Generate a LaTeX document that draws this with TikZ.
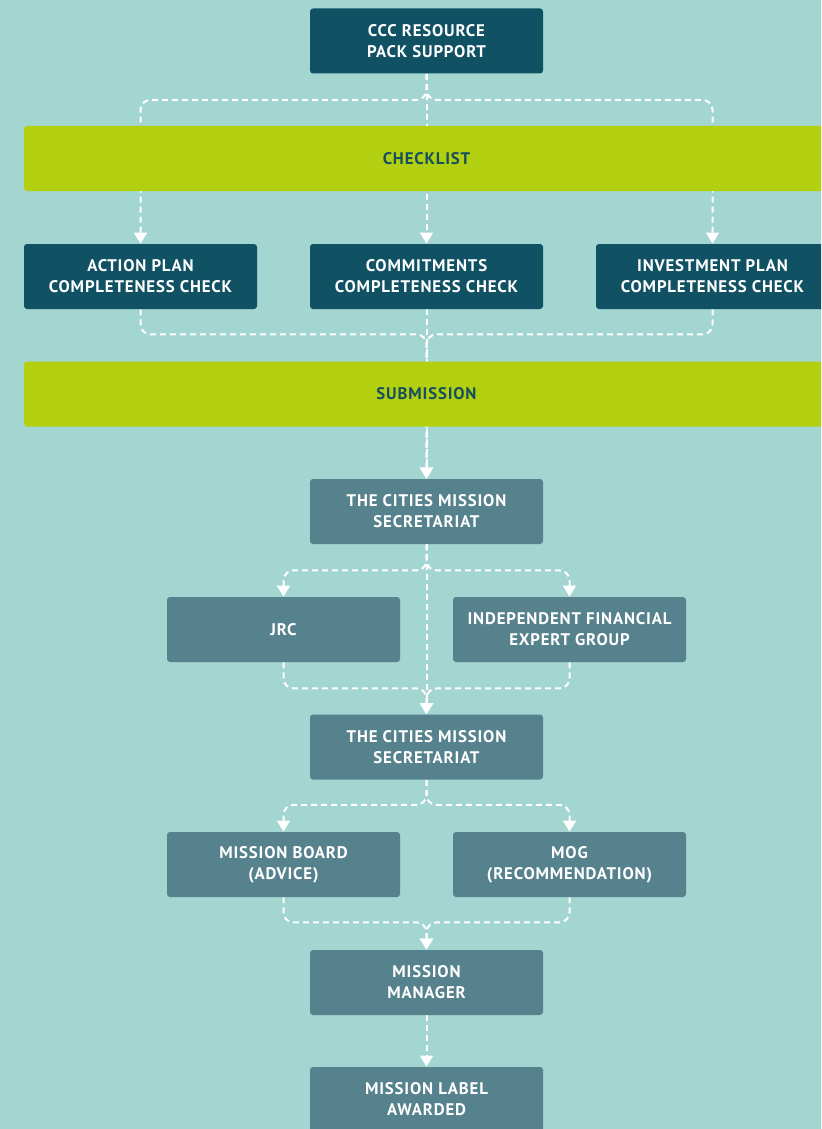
\documentclass[tikz,border=0pt]{standalone}
\usepackage{fontspec}
\setmainfont{PT Sans}[LetterSpace=5]
\usetikzlibrary{arrows.meta}

\definecolor{bgaqua}{RGB}{163,213,209}
\definecolor{darkteal}{RGB}{16,82,100}
\definecolor{slateteal}{RGB}{86,130,141}
\definecolor{limegreen}{RGB}{178,208,16}
\definecolor{bandtext}{RGB}{22,80,92}

\pgfdeclarelayer{back}
\pgfdeclarelayer{links}
\pgfsetlayers{back,links,main}

\tikzset{
  box/.style={rectangle, rounded corners=1.5pt, minimum width=116.5pt,
    minimum height=32.5pt, inner sep=0pt, align=center, text=white,
    font=\bfseries\fontsize{8.4}{10.5}\selectfont},
  darkbox/.style={box, fill=darkteal},
  midbox/.style={box, fill=slateteal},
  band/.style={rectangle, rounded corners=1.5pt, fill=limegreen,
    minimum width=402.5pt, minimum height=32.5pt, text=bandtext,
    font=\bfseries\fontsize{8.4}{10.5}\selectfont},
  link/.style={draw=white, line width=1pt, dash pattern=on 3pt off 2pt,
    rounded corners=5pt, -{Triangle[width=6.5pt,length=5.5pt]}}
}

\begin{document}
\begin{tikzpicture}[x=0.5pt, y=-0.5pt]
\begin{pgfonlayer}{back}
  \fill[bgaqua] (0,0) rectangle (821,1129);
\end{pgfonlayer}
\useasboundingbox (0,0) rectangle (821,1129);
\clip (0,0) rectangle (821,1129);

\node[darkbox] (ccc) at (426.5,41) {CCC RESOURCE\\PACK SUPPORT};
\node[band] (checklist) at (426.5,158.5) {CHECKLIST};

\node[darkbox] (actionplan) at (140.5,276.5) {ACTION PLAN\\COMPLETENESS CHECK};
\node[darkbox] (commitments) at (426.5,276.5) {COMMITMENTS\\COMPLETENESS CHECK};
\node[darkbox] (investplan) at (712.5,276.5) {INVESTMENT PLAN\\COMPLETENESS CHECK};

\node[band] (submission) at (426.5,394) {SUBMISSION};

\node[midbox] (secretariat1) at (426.5,511.5) {THE CITIES MISSION\\SECRETARIAT};
\node[midbox] (jrc) at (283.5,629.5) {JRC};
\node[midbox] (expertgroup) at (569.5,629.5) {INDEPENDENT FINANCIAL\\EXPERT GROUP};
\node[midbox] (secretariat2) at (426.5,747) {THE CITIES MISSION\\SECRETARIAT};
\node[midbox] (board) at (283.5,864.5) {MISSION BOARD\\(ADVICE)};
\node[midbox] (mog) at (569.5,864.5) {MOG\\(RECOMMENDATION)};
\node[midbox] (manager) at (426.5,982.5) {MISSION\\MANAGER};
\node[midbox] (awarded) at (426.5,1099.5) {MISSION LABEL\\AWARDED};

\begin{pgfonlayer}{links}
  % fan out from the resource pack
  \draw[link] (ccc.south) -- ++(0,26) -| (actionplan.north);
  \draw[link] (ccc.south) -- (commitments.north);
  \draw[link] (ccc.south) -- ++(0,26) -| (investplan.north);
  % checks into the secretariat
  \draw[link] (actionplan.south) -- ++(0,25) -| (secretariat1.north);
  \draw[link] (commitments.south) -- (secretariat1.north);
  \draw[link] (investplan.south) -- ++(0,25) -| (secretariat1.north);
  % assessment
  \draw[link] (secretariat1.south) -- ++(0,26) -| (jrc.north);
  \draw[link] (secretariat1.south) -- ++(0,26) -| (expertgroup.north);
  \draw[link] (secretariat1.south) -- (secretariat2.north);
  \draw[link] (jrc.south) -- ++(0,26) -| (secretariat2.north);
  \draw[link] (expertgroup.south) -- ++(0,26) -| (secretariat2.north);
  % decision
  \draw[link] (secretariat2.south) -- ++(0,25) -| (board.north);
  \draw[link] (secretariat2.south) -- ++(0,25) -| (mog.north);
  \draw[link] (board.south) -- ++(0,25) -| (manager.north);
  \draw[link] (mog.south) -- ++(0,25) -| (manager.north);
  \draw[link] (manager) -- (awarded);
\end{pgfonlayer}
\end{tikzpicture}
\end{document}
